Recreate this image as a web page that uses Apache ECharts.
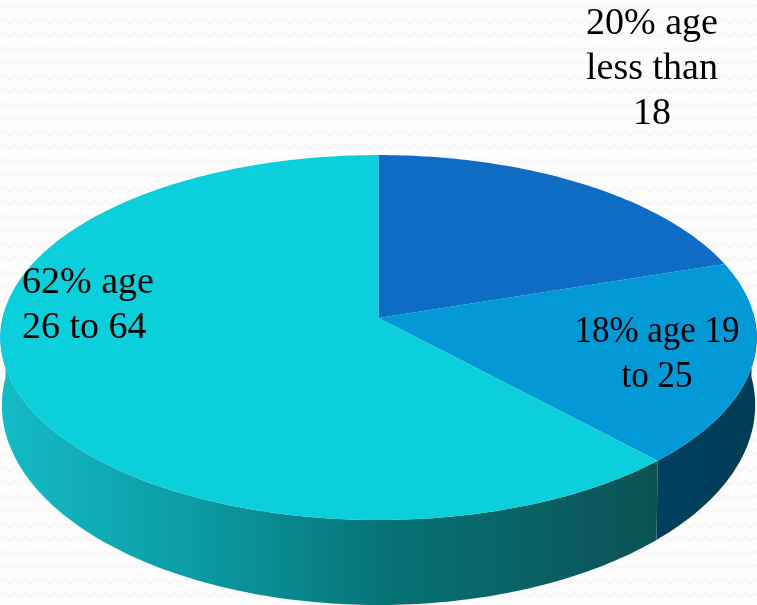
<!DOCTYPE html>
<html>
<head>
<meta charset="utf-8">
<style>html,body{margin:0;padding:0;background:#fcfcfc}#c{width:757px;height:605px}</style>
<script src="https://cdn.jsdelivr.net/npm/echarts@6/dist/echarts.min.js"></script>
</head>
<body>
<div id="c"></div>
<script>
const categories = ['age less than 18', 'age 19 to 25', 'age 26 to 64'];
const shares = [20, 18, 62];
const faceColors = ['#0e6cc4', '#0299d6', '#0bcfda'];
const labelLines = ['20% age\nless than\n18', '18% age 19\nto 25', '62% age\n26 to 64'];

// Perspective frame of the tilted disc
const CX = 378.5, K = -0.107;
const TOP = { y: 318, a: 180.4, b: 376 };
const BOTTOM = { y: 383.6, a: 197.7, b: 374.5 };
const HIDDEN_FROM = 88, HIDDEN_TO = 272;

function project(ring, deg) {
  const t = deg * Math.PI / 180;
  const X = Math.sin(t), Y = -Math.cos(t), d = 1 + K * Y;
  return [CX + ring.b * X / d, ring.y + ring.a * Y / d];
}
function arc(ring, from, to) {
  const pts = [], n = Math.max(2, Math.ceil(Math.abs(to - from)));
  for (let i = 0; i <= n; i++) pts.push(project(ring, from + (to - from) * i / n));
  return pts;
}
const total = shares.reduce((a, b) => a + b, 0);
function range(i) {
  let s = 0;
  for (let j = 0; j < i; j++) s += shares[j];
  return [s / total * 360, (s + shares[i]) / total * 360];
}
const wallStyles = [
  null,
  { stops: [[0, '#00405f'], [1, '#003b57']] },
  { stops: [[0, '#14bbc7'], [0.3, '#0b9ba3'], [0.6, '#077175'], [1, '#0b5254']] }
];

const chart = echarts.init(document.getElementById('c'), null, { renderer: 'canvas' });

function bgPattern() {
  const c = document.createElement('canvas');
  c.width = 10; c.height = 14;
  const g = c.getContext('2d');
  g.fillStyle = '#fdfdfd'; g.fillRect(0, 0, 10, 14);
  g.strokeStyle = '#f6f6f6'; g.lineWidth = 2;
  g.beginPath();
  g.moveTo(0, 9); g.lineTo(5, 5); g.lineTo(10, 9);
  g.stroke();
  return c;
}

chart.setOption({
  animation: false,
  backgroundColor: { image: bgPattern(), repeat: 'repeat' },
  series: [
    {
      type: 'custom', coordinateSystem: 'none', silent: true, z: 1,
      data: categories.map((n, i) => ({ name: n, value: shares[i] })),
      renderItem(params) {
        const i = params.dataIndex, st = wallStyles[i];
        let [a, b] = range(i);
        a = Math.max(a, HIDDEN_FROM); b = Math.min(b, HIDDEN_TO);
        if (!st || b <= a) return { type: 'group', children: [] };
        const pts = arc(TOP, a, b).concat(arc(BOTTOM, b, a));
        return {
          type: 'polygon', shape: { points: pts },
          style: { fill: new echarts.graphic.LinearGradient(0, 0, 1, 0,
            st.stops.map(s => ({ offset: s[0], color: s[1] }))) }
        };
      }
    },
    {
      type: 'custom', coordinateSystem: 'none', silent: true, z: 2,
      data: categories.map((n, i) => ({ name: n, value: shares[i] })),
      renderItem(params) {
        const i = params.dataIndex, [a, b] = range(i);
        const pts = [[CX, TOP.y]].concat(arc(TOP, a, b));
        return { type: 'polygon', shape: { points: pts }, style: { fill: faceColors[i] } };
      }
    }
  ],
  graphic: [
    { x: 652, y: 2, align: 'center', t: labelLines[0], sx: 1 },
    { x: 657, y: 310, align: 'center', t: labelLines[1], sx: 0.92 },
    { x: 22, y: 261, align: 'left', t: labelLines[2], sx: 1 }
  ].map(l => ({
    type: 'text', x: l.x, y: l.y, z: 10, silent: true, scaleX: l.sx,
    style: { text: l.t, fill: '#000', font: '38px "Liberation Serif"', lineHeight: 45, align: l.align, verticalAlign: 'top' }
  }))
});
</script>
</body>
</html>
